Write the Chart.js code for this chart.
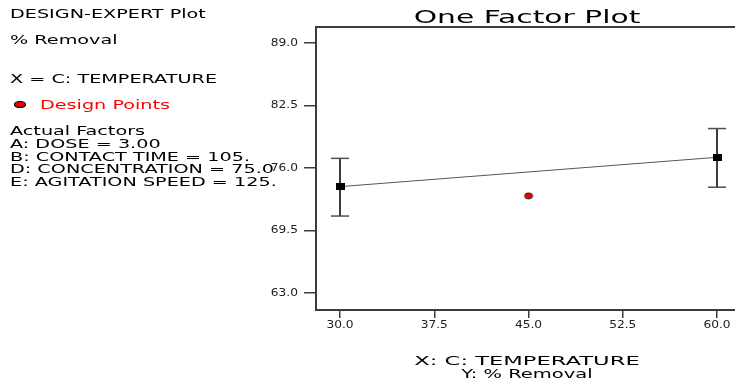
<!DOCTYPE html>
<html>
<head>
<meta charset="utf-8">
<script src="https://cdn.jsdelivr.net/npm/chart.js@4.4.1/dist/chart.umd.min.js"></script>
<style>
  html, body { margin: 0; padding: 0; background: #fff; }
  #plot { display: block; }
</style>
</head>
<body>
<canvas id="plot" width="735" height="382"></canvas>
<script>
"use strict";
// factor levels and predicted % removal
const temps = [30, 60];
const removalMeans = [74.06, 77.11];
const removalLow = [71.0, 74.0];
const removalHigh = [77.0, 80.1];
// design point (centre run)
const designTemps = [45];
const designRemoval = [73.1];
// axis ticks
const xTicks = [30, 37.5, 45, 52.5, 60];
const yTicks = [63.0, 69.5, 76.0, 82.5, 89.0];

const infoLines = [
    {text: 'DESIGN-EXPERT Plot', y: 15},
    {text: '% Removal', y: 41},
    {text: 'X = C: TEMPERATURE', y: 80},
    {text: 'Design Points', y: 106, x: 40, color: '#ff0000'},
    {text: 'Actual Factors', y: 132},
    {text: 'A: DOSE = 3.00', y: 145},
    {text: 'B: CONTACT TIME = 105.', y: 157.5},
    {text: 'D: CONCENTRATION = 75.0', y: 170},
    {text: 'E: AGITATION SPEED = 125.', y: 183},
];

const FONT = '"DejaVu Sans", "Liberation Sans", sans-serif';
const AXIS = '#3c3c3c';

function stretchText(ctx, text, x, y, size, sx, align, color) {
    ctx.save();
    ctx.font = size + 'px ' + FONT;
    let w = ctx.measureText(text).width * sx;
    let left = x;
    if (align == 'center') left = x - w / 2;
    if (align == 'right') left = x - w;
    ctx.translate(left, y);
    ctx.scale(sx, 1);
    ctx.textAlign = 'left';
    ctx.textBaseline = 'middle';
    ctx.fillStyle = color || '#000';
    ctx.fillText(text, 0, 0);
    ctx.restore();
}

function marker(w, h, draw) {
    let c = document.createElement('canvas');
    c.width = w;
    c.height = h;
    draw(c.getContext('2d'));
    return c;
}

const squareMark = marker(9, 7, g => {
    g.fillStyle = '#000';
    g.fillRect(0, 0, 9, 7);
});
const dotMark = marker(10, 8, g => {
    g.beginPath();
    g.ellipse(5, 4, 4, 3, 0, 0, Math.PI * 2);
    g.fillStyle = '#ee0000';
    g.fill();
    g.lineWidth = 1;
    g.strokeStyle = '#222';
    g.stroke();
});

const textPlugin = {
    id: 'designText',
    afterDraw(chart) {
        let ctx = chart.ctx;
        let area = chart.chartArea;
        // top frame line
        ctx.save();
        ctx.strokeStyle = AXIS;
        ctx.lineWidth = 2;
        ctx.beginPath();
        ctx.moveTo(area.left - 1, area.top);
        ctx.lineTo(chart.width, area.top);
        ctx.stroke();
        ctx.restore();

        // left info panel
        for (let ln of infoLines) {
            stretchText(ctx, ln.text, ln.x || 10, ln.y, 12, 1.6, 'left', ln.color);
        }
        ctx.save();
        ctx.beginPath();
        ctx.ellipse(20, 104.5, 5.5, 3, 0, 0, Math.PI * 2);
        ctx.fillStyle = '#ee0000';
        ctx.fill();
        ctx.strokeStyle = '#000';
        ctx.lineWidth = 1.2;
        ctx.stroke();
        ctx.restore();

        // title
        stretchText(ctx, 'One Factor Plot', 527, 19, 17, 1.75, 'center', '#000');

        // tick labels
        let xs = chart.scales.x, ys = chart.scales.y;
        for (let t of ys.ticks) {
            stretchText(ctx, t.value.toFixed(1), 298, ys.getPixelForValue(t.value), 10, 1.22, 'right', '#222');
        }
        for (let t of xs.ticks) {
            stretchText(ctx, t.value.toFixed(1), xs.getPixelForValue(t.value), 325, 10, 1.22, 'center', '#222');
        }

        // axis titles
        stretchText(ctx, 'X: C: TEMPERATURE', 527, 362, 13, 1.74, 'center', '#000');
        stretchText(ctx, 'Y: % Removal', 527, 375, 13, 1.5, 'center', '#000');
    }
};

let datasets = [];
temps.forEach((t, i) => {
    datasets.push({
        label: 'ci' + i,
        data: [{x: t, y: removalLow[i]}, {x: t, y: removalHigh[i]}],
        showLine: true,
        borderColor: AXIS,
        borderWidth: 2,
        pointStyle: 'line',
        pointRadius: 9,
        pointBorderWidth: 1.5,
        pointBorderColor: '#505050',
        order: 3,
    });
});
datasets.push({
    label: 'mean',
    data: temps.map((t, i) => ({x: t, y: removalMeans[i]})),
    showLine: true,
    borderColor: '#555',
    borderWidth: 1,
    pointStyle: squareMark,
    pointRadius: 5,
    order: 1,
});
datasets.push({
    label: 'design',
    data: designTemps.map((t, i) => ({x: t, y: designRemoval[i]})),
    pointStyle: dotMark,
    pointRadius: 5,
    order: 0,
});

new Chart(document.getElementById('plot'), {
    type: 'scatter',
    data: {datasets: datasets},
    options: {
        responsive: false,
        animation: false,
        devicePixelRatio: 1,
        events: [],
        layout: {autoPadding: false, padding: {top: 27, right: 0, bottom: 0, left: 0}},
        plugins: {
            legend: {display: false},
            title: {display: false},
            tooltip: {enabled: false},
        },
        scales: {
            x: {
                type: 'linear',
                min: 28.09,
                max: 61.43,
                afterBuildTicks: s => { s.ticks = xTicks.map(v => ({value: v})); },
                afterFit: s => { s.height = 72; s.paddingRight = 0; s.paddingLeft = 0; },
                ticks: {display: false},
                grid: {drawOnChartArea: false, drawTicks: true, tickLength: 8, color: AXIS, lineWidth: 1.5},
                border: {display: true, color: AXIS, width: 2},
            },
            y: {
                type: 'linear',
                min: 61.23,
                max: 90.66,
                afterBuildTicks: s => { s.ticks = yTicks.map(v => ({value: v})); },
                afterFit: s => { s.width = 316; s.paddingTop = 0; s.paddingBottom = 0; },
                ticks: {display: false},
                grid: {drawOnChartArea: false, drawTicks: true, tickLength: 12, color: AXIS, lineWidth: 1.5},
                border: {display: true, color: AXIS, width: 2},
            },
        },
    },
    plugins: [textPlugin],
});
</script>
</body>
</html>
